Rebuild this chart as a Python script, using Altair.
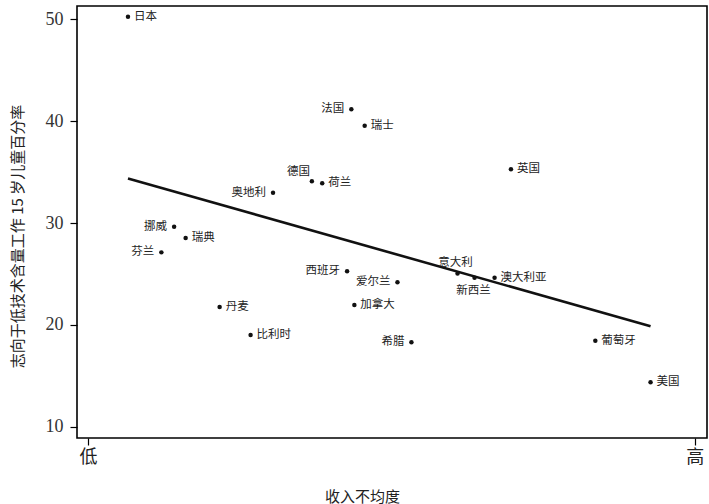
import altair as alt
import pandas as pd

# Countries, relative income inequality (0 = low, 1 = high) and
# share of 15-year-olds aspiring to low-skilled work (%)
countries = ["日本", "法国", "瑞士", "英国", "德国", "荷兰", "奥地利", "挪威", "瑞典", "芬兰",
             "西班牙", "爱尔兰", "意大利", "新西兰", "澳大利亚", "加拿大", "丹麦", "比利时",
             "希腊", "葡萄牙", "美国"]
inequality = [0.066, 0.434, 0.456, 0.697, 0.369, 0.386, 0.305, 0.142, 0.161, 0.121,
              0.427, 0.510, 0.609, 0.637, 0.670, 0.439, 0.217, 0.268,
              0.533, 0.836, 0.927]
low_skill_pct = [50.25, 41.16, 39.55, 35.27, 34.09, 33.90, 32.97, 29.64, 28.53, 27.12,
                 25.26, 24.19, 25.04, 24.63, 24.63, 21.95, 21.76, 19.01,
                 18.30, 18.45, 14.37]

# where each country's name sits relative to its dot
right_side = ["日本", "瑞士", "英国", "荷兰", "瑞典", "丹麦", "加拿大", "比利时", "澳大利亚", "葡萄牙", "美国"]
left_side = ["法国", "奥地利", "挪威", "芬兰", "西班牙", "爱尔兰", "希腊"]
upper_left = ["德国"]
above = ["意大利"]
below = ["新西兰"]

df = pd.DataFrame({"country": countries, "x": inequality, "y": low_skill_pct})

CJK = "Noto Sans CJK SC"
SERIF = "Liberation Serif"

x_enc = alt.X("x:Q",
              scale=alt.Scale(domain=[-0.018, 1.02], nice=False, zero=False),
              axis=alt.Axis(values=[0, 1], labelExpr="datum.value == 0 ? '低' : '高'",
                            title="收入不均度", grid=False, domain=False,
                            tickSize=7, tickColor="black", tickWidth=1.2,
                            labelFont=CJK, labelFontSize=18, labelColor="#222",
                            labelPadding=3,
                            titleFont=CJK, titleFontSize=15, titleFontWeight="normal",
                            titleColor="#222", titleX=285, titleY=58,
                            titleBaseline="middle", titleAlign="center"))
y_enc = alt.Y("y:Q",
              scale=alt.Scale(domain=[8.9, 51.3], nice=False, zero=False),
              axis=alt.Axis(values=[10, 20, 30, 40, 50], title="志向于低技术含量工作 15 岁儿童百分率",
                            grid=False, domain=False,
                            tickSize=7, tickColor="black", tickWidth=1.2,
                            labelFont=SERIF, labelFontSize=18, labelColor="#333",
                            labelPadding=7,
                            titleFont=CJK, titleFontSize=15, titleFontWeight="normal",
                            titleColor="#222", titleAngle=270, titleX=-60, titleY=230,
                            titleBaseline="middle", titleAlign="center"))

base = alt.Chart(df).encode(x=x_enc, y=y_enc)

points = base.mark_circle(size=20, color="#111", opacity=1)

fit = base.transform_regression("x", "y").mark_line(color="#111", strokeWidth=2.6)


def labels(names, **kw):
    return (base.transform_filter(alt.FieldOneOfPredicate(field="country", oneOf=names))
            .mark_text(font=CJK, fontSize=11.5, color="#222", baseline="middle", **kw)
            .encode(text="country:N"))


chart = alt.layer(
    fit,
    points,
    labels(right_side, align="left", dx=6),
    labels(left_side, align="right", dx=-7),
    labels(upper_left, align="right", dx=-2, dy=-9),
    labels(above, align="center", dx=-2, dy=-11),
    labels(below, align="center", dx=-1, dy=13),
).properties(
    width=630, height=432,
    background="white",
    autosize=alt.AutoSizeParams(type="none"),
    padding={"left": 77, "top": 6, "right": 2, "bottom": 66},
).configure_view(
    stroke="black", strokeWidth=1.6
)

chart.save("out.html", embed_options={"renderer": "svg", "actions": False})
